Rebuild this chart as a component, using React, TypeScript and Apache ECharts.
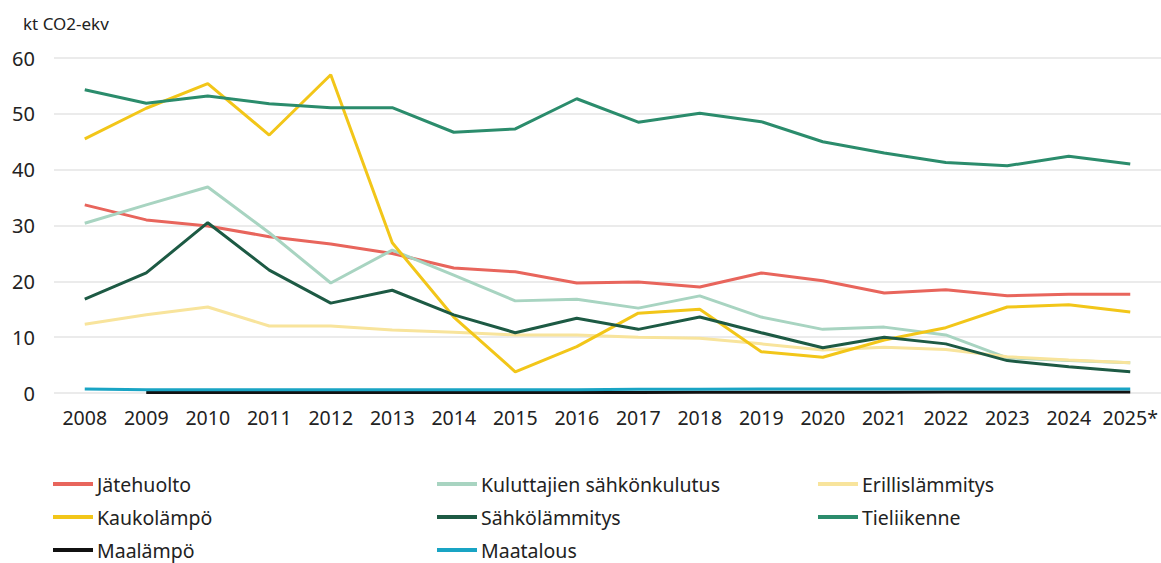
import React, { useEffect, useRef } from "react";
import * as echarts from "echarts";

const years = ["2008","2009","2010","2011","2012","2013","2014","2015","2016","2017","2018","2019","2020","2021","2022","2023","2024","2025*"];

const jatehuolto = [33.7,31.0,29.9,28.0,26.7,25.0,22.4,21.7,19.7,19.9,19.0,21.5,20.1,17.9,18.5,17.4,17.7,17.7];
const kuluttajien = [30.4,33.7,36.9,28.7,19.7,25.6,21.1,16.5,16.8,15.2,17.4,13.6,11.4,11.8,10.4,6.3,5.8,5.4];
const erillis = [12.3,14.0,15.4,12.0,12.0,11.3,10.9,10.4,10.4,10.0,9.8,8.8,7.7,8.2,7.8,6.5,5.9,5.4];
const kaukolampo = [45.5,51.0,55.4,46.2,57.0,26.9,13.6,3.8,8.3,14.3,15.0,7.4,6.4,9.5,11.7,15.4,15.8,14.5];
const sahkolammitys = [16.8,21.5,30.5,22.0,16.1,18.4,14.0,10.8,13.4,11.4,13.6,10.8,8.1,10.0,8.8,5.8,4.7,3.8];
const tieliikenne = [54.3,51.9,53.2,51.8,51.1,51.1,46.7,47.3,52.7,48.5,50.1,48.6,45.0,43.0,41.3,40.7,42.4,41.0];
const maalampo = [null,0.1,0.1,0.1,0.1,0.1,0.1,0.1,0.1,0.1,0.15,0.15,0.15,0.15,0.2,0.2,0.2,0.2];
const maatalous = [0.7,0.6,0.6,0.6,0.6,0.6,0.6,0.6,0.6,0.65,0.65,0.7,0.7,0.7,0.7,0.7,0.7,0.7];

const seriesDefs = [
  { name: "Jätehuolto", data: jatehuolto, color: "#e8655c" },
  { name: "Kuluttajien sähkönkulutus", data: kuluttajien, color: "#a8d4c1" },
  { name: "Erillislämmitys", data: erillis, color: "#f8e49c" },
  { name: "Kaukolämpö", data: kaukolampo, color: "#f2c619" },
  { name: "Sähkölämmitys", data: sahkolammitys, color: "#1d5a44" },
  { name: "Tieliikenne", data: tieliikenne, color: "#2b8c6c" },
  { name: "Maalämpö", data: maalampo, color: "#111111" },
  { name: "Maatalous", data: maatalous, color: "#19a4c4" },
];

const FONT = "Noto Sans";

export default function App() {
  const ref = useRef<HTMLDivElement>(null);
  useEffect(() => {
    document.body.style.margin = "0";
    const chart = echarts.init(ref.current!, null, { renderer: "svg" });
    const legendBase = {
      orient: "vertical" as const,
      top: 474,
      height: 100,
      padding: 0,
      icon: "rect",
      itemWidth: 40,
      itemHeight: 4,
      itemGap: 13,
      textStyle: { fontFamily: FONT, fontSize: 19.5, color: "#222", lineHeight: 20, padding: [0, 0, 0, -1] },
    };
    chart.setOption({
      animation: false,
      backgroundColor: "#ffffff",
      title: {
        text: "kt CO2-ekv",
        left: 18,
        top: 10,
        textStyle: { fontFamily: FONT, fontSize: 17, fontWeight: "normal", color: "#222" },
      },
      legend: [
        { ...legendBase, left: 53, data: ["Jätehuolto", "Kaukolämpö", "Maalämpö"] },
        { ...legendBase, left: 437, data: ["Kuluttajien sähkönkulutus", "Sähkölämmitys", "Maatalous"] },
        { ...legendBase, left: 818, data: ["Erillislämmitys", "Tieliikenne"] },
      ],
      grid: { left: 54, right: 0, top: 58, bottom: 170, containLabel: false },
      xAxis: {
        type: "category",
        data: years,
        boundaryGap: true,
        axisLine: { show: false },
        axisTick: { show: false },
        axisLabel: { fontFamily: FONT, fontSize: 19.5, color: "#222", margin: 14, interval: 0 },
      },
      yAxis: {
        type: "value",
        min: 0,
        max: 60,
        interval: 10,
        axisLine: { show: false },
        axisTick: { show: false },
        axisLabel: { fontFamily: FONT, fontSize: 20, color: "#222", margin: 19 },
        splitLine: { lineStyle: { color: "#e4e4e4", width: 1.5 } },
      },
      series: seriesDefs.map((s) => ({
        name: s.name,
        type: "line",
        data: s.data,
        color: s.color,
        showSymbol: false,
        symbol: "none",
        lineStyle: { width: 3, color: s.color },
        itemStyle: { color: s.color },
        connectNulls: false,
      })),
    });
    return () => chart.dispose();
  }, []);
  return <div ref={ref} style={{ width: 1161, height: 563 }} />;
}
